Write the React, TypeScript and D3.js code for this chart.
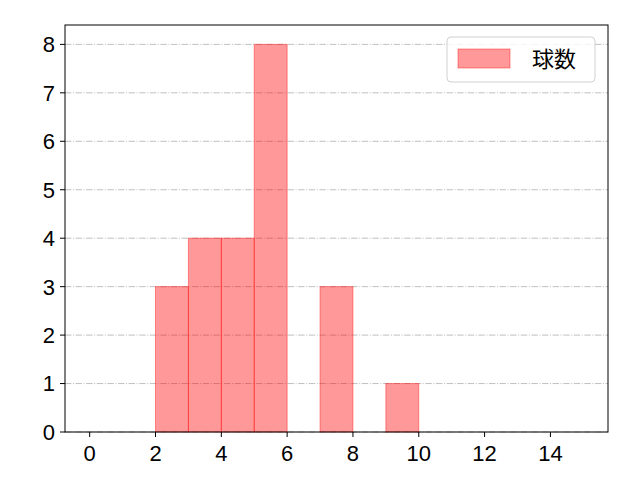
import * as d3 from "d3";

const binStarts = [2, 3, 4, 5, 7, 9];
const counts = [3, 4, 4, 8, 3, 1];
const xTicks = [0, 2, 4, 6, 8, 10, 12, 14];
const yTicks = [0, 1, 2, 3, 4, 5, 6, 7, 8];
const legendLabel = "球数";

const W = 640;
const H = 480;
const M = { top: 25, right: 32, bottom: 48, left: 65 };
const FONT = "'Liberation Sans', 'Noto Sans CJK JP', sans-serif";
const CJK = "'Noto Sans CJK JP', sans-serif";

export default function App() {
  const x = d3.scaleLinear().domain([-0.75, 15.75]).range([M.left, W - M.right]);
  const y = d3.scaleLinear().domain([0, 8.4]).range([H - M.bottom, M.top]);
  const x0 = M.left, x1 = W - M.right, y0 = H - M.bottom, y1 = M.top;

  return (
    <div style={{ position: "absolute", left: 0, top: 0 }}>
      <svg width={W} height={H} style={{ display: "block", background: "#fff" }} fontFamily={FONT}>
        {yTicks.map((t) => (
          <line key={t} x1={x0} x2={x1} y1={y(t)} y2={y(t)} stroke="#b0b0b0" strokeWidth={0.8}
            strokeDasharray="6.4 1.6 1 1.6" />
        ))}
        {binStarts.map((b, i) => (
          <rect key={b} x={x(b)} y={y(counts[i])} width={x(b + 1) - x(b)} height={y(0) - y(counts[i])}
            fill="rgba(255,0,0,0.4)" stroke="rgba(255,0,0,0.4)" strokeWidth={1} />
        ))}
        <rect x={x0} y={y1} width={x1 - x0} height={y0 - y1} fill="none" stroke="#000" strokeWidth={1} />
        {xTicks.map((t) => (
          <g key={t}>
            <line x1={x(t)} x2={x(t)} y1={y0} y2={y0 + 5} stroke="#000" strokeWidth={1} />
            <text x={x(t)} y={y0 + 29} textAnchor="middle" fontSize={22}>{t}</text>
          </g>
        ))}
        {yTicks.map((t) => (
          <g key={t}>
            <line x1={x0 - 5} x2={x0} y1={y(t)} y2={y(t)} stroke="#000" strokeWidth={1} />
            <text x={x0 - 10} y={y(t)} dy="0.36em" textAnchor="end" fontSize={22}>{t}</text>
          </g>
        ))}
        <g>
          <rect x={447} y={37} width={148} height={45} rx={4} fill="rgba(255,255,255,0.8)" stroke="#d0d0d0" strokeWidth={1} />
          <rect x={458} y={49} width={52} height={19} fill="rgba(255,0,0,0.4)" stroke="rgba(255,0,0,0.4)" strokeWidth={1} />
          <text x={532} y={59} dy="0.36em" fontSize={22} fontFamily={CJK}>{legendLabel}</text>
        </g>
      </svg>
    </div>
  );
}
